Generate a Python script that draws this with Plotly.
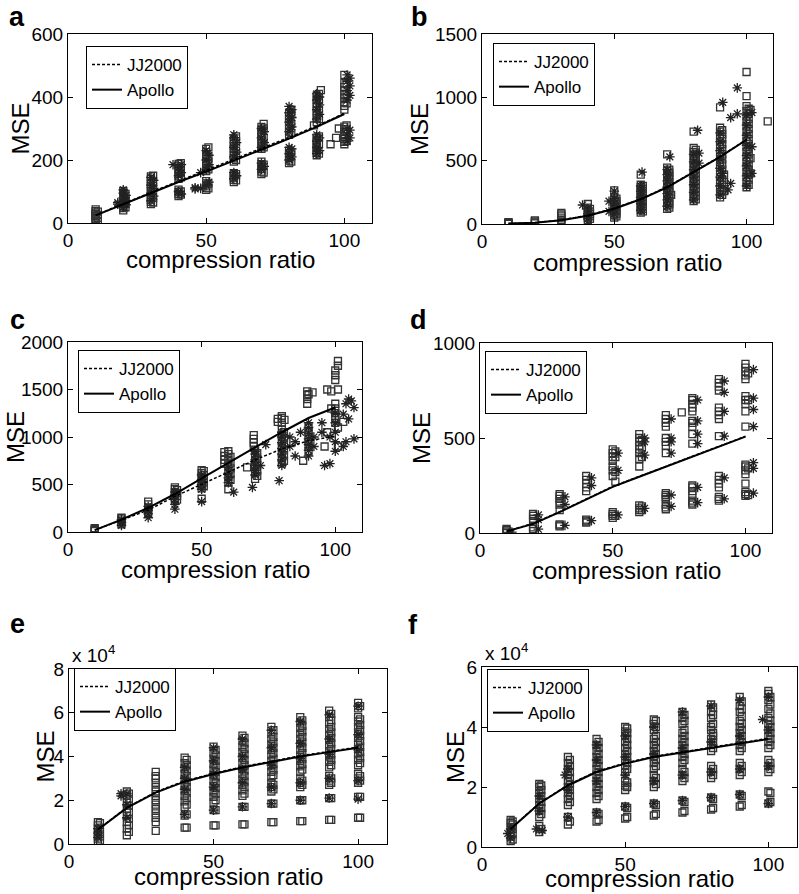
import plotly.graph_objects as go

W, H = 799, 894

# ------------------------------------------------------------------ data
CR = [10, 20, 30, 40, 50, 60, 70, 80, 90, 100]

# panel a
a_jj = [25, 62, 97, 133, 167, 202, 237, 272, 308, 348]
a_ap = [24, 60, 95, 130, 163, 198, 232, 268, 305, 346]
a_sq_x = [10, 10.8, 20, 20.8, 30, 30.8, 40, 40.8, 50, 50.8, 60, 60.8, 70, 70.8,
          80, 80.8, 89, 90, 90.8, 91.5, 95, 97, 98, 100, 100.8]
a_sq_y = [[3, 8, 13, 18, 23, 28, 33, 38, 43],
          [6, 16, 26, 36],
          [40, 47, 54, 61, 68, 75, 82, 89, 96, 102],
          [50, 64, 78, 92],
          [60, 67, 74, 81, 88, 100, 108, 116, 124, 132, 140, 148],
          [65, 80, 110, 130, 150],
          [85, 92, 99, 106, 140, 148, 156, 164, 172, 180, 188],
          [90, 100, 145, 160, 175, 190],
          [105, 112, 119, 126, 133, 165, 175, 185, 195, 205, 215, 225, 235],
          [110, 125, 170, 190, 210, 240],
          [130, 137, 144, 151, 158, 195, 205, 215, 225, 235, 245, 255, 265],
          [135, 155, 200, 230, 260, 275],
          [155, 163, 171, 179, 187, 195, 235, 245, 255, 265, 275, 285, 295, 305],
          [160, 185, 240, 270, 300, 315],
          [190, 198, 206, 214, 222, 230, 280, 290, 300, 310, 320, 330, 340, 350],
          [195, 225, 285, 315, 345, 360],
          [310],
          [215, 223, 231, 239, 247, 255, 263, 271, 320, 332, 344, 356, 368, 380, 392, 404],
          [220, 250, 275, 330, 360, 390, 410],
          [422],
          [250], [270], [300],
          [250, 258, 266, 274, 282, 290, 298, 306, 360, 372, 384, 396, 408, 420, 432, 444, 470],
          [260, 290, 310, 380, 410, 440]]
a_st_x = [18, 20, 21, 30, 31, 38, 40, 41, 46, 48, 50, 51, 60, 61, 70, 71, 80, 81,
          90, 91, 101, 102]
a_st_y = [[60, 65], [50, 65, 80, 95, 105], [58, 72, 88], [70, 95, 120, 145],
          [85, 110, 135], [185], [100, 150, 175], [92, 160, 185], [108, 112],
          [110, 160], [120, 170, 200, 230], [130, 185, 215], [140, 160, 210, 240, 270, 280],
          [150, 225, 255], [170, 190, 240, 270, 300], [180, 255, 290],
          [200, 220, 240, 290, 320, 350, 370], [210, 235, 305, 335, 360],
          [220, 240, 260, 280, 330, 360, 390, 410], [230, 270, 345, 375, 400],
          [260, 280, 300, 390, 420, 450, 470], [270, 295, 405, 435, 460]]

# panel b
b_jj = [3, 10, 32, 68, 124, 198, 293, 412, 532, 668]
b_ap = [3, 10, 30, 65, 120, 195, 290, 410, 530, 665]
b_sq_x = [10, 20, 30, 40, 40.8, 50, 50.8, 60, 60.8, 70, 70.8, 71.5, 80, 80.8, 90,
          90.8, 91.5, 100, 100.8, 101.5, 108]
b_sq_y = [[2, 6, 10, 14],
          [5, 12, 20, 28],
          [15, 30, 45, 60, 75, 88],
          [30, 50, 70, 90, 110, 130, 158],
          [40, 60, 80, 100, 120],
          [50, 70, 90, 110, 130, 150, 170, 190, 210, 265],
          [60, 80, 100, 120, 140, 160, 180, 200],
          [90, 110, 130, 150, 170, 190, 210, 230, 250, 270, 290, 310, 390],
          [100, 120, 140, 160, 180, 200, 220, 240, 260, 280, 300],
          [120, 145, 170, 195, 220, 245, 270, 295, 320, 345, 370, 395, 420, 445, 550],
          [130, 155, 180, 205, 230, 255, 280, 305, 330, 355, 380, 405, 430],
          [230],
          [180, 210, 240, 270, 300, 330, 360, 390, 420, 450, 480, 510, 540, 570, 600, 730],
          [195, 225, 255, 285, 315, 345, 375, 405, 435, 465, 495, 525, 555, 585],
          [210, 250, 290, 330, 370, 410, 450, 490, 530, 570, 610, 650, 690, 730, 760, 920],
          [230, 270, 310, 350, 430, 470, 510, 550, 590, 630, 670, 710, 740],
          [260, 330, 390],
          [290, 330, 370, 410, 450, 490, 530, 570, 610, 650, 690, 730, 770, 810, 850, 890, 930, 1010, 1200],
          [310, 350, 390, 430, 470, 510, 550, 590, 630, 670, 710, 750, 790, 830, 870, 910],
          [400, 520, 900],
          [810]]
b_st_x = [38, 40, 48, 50, 60, 60.5, 70, 71, 80, 81.5, 82, 90, 91, 93, 94, 96.5, 100, 102]
b_st_y = [[150], [40, 80, 120], [100, 180], [80, 120, 160, 200, 260],
          [110, 160, 210, 260, 300], [410],
          [140, 190, 240, 290, 340, 390, 430], [530],
          [190, 250, 310, 370, 430, 490, 550], [740], [480, 560],
          [230, 300, 370, 440, 510, 580, 650, 720], [960, 400], [270],
          [320, 840], [1075, 870],
          [300, 380, 460, 540, 620, 700, 780, 860], [400, 610, 880]]

# panel c
c_jj = [20, 125, 230, 375, 500, 630, 760, 875, 960, 1010]
c_ap = [20, 130, 255, 400, 565, 730, 890, 1050, 1200, 1310]
c_sq_x = [10, 20, 30, 40, 40.8, 50, 50.8, 58.5, 60, 60.8, 67, 69.5, 70, 70.8, 78.5, 80,
          80.8, 81, 88, 89.5, 90, 91.5, 96, 97, 98.5, 100, 101, 103]
c_sq_y = [[10, 20, 30, 40],
          [80, 100, 120, 140, 150],
          [200, 230, 260, 290, 320],
          [330, 360, 390, 420, 450, 470],
          [340, 380, 410, 440],
          [350, 460, 500, 540, 580, 620, 650],
          [480, 520, 560, 600, 640],
          [720, 760, 800, 840],
          [450, 520, 580, 640, 700, 760, 820, 850],
          [550, 610, 670, 730, 790],
          [680],
          [900, 940, 980, 1020],
          [560, 620, 680, 740, 800, 860],
          [590, 650, 710, 770, 830],
          [1160, 1190],
          [720, 780, 840, 900, 960, 1020, 1080, 1150, 1200, 1220],
          [750, 810, 870, 930, 990, 1050],
          [1180],
          [750],
          [1350, 1400, 1440, 1480],
          [850, 900, 950, 1000, 1050, 1100, 1450],
          [1470],
          [900],
          [1050, 1500],
          [1300, 1480],
          [1150, 1200, 1250, 1300, 1350, 1600, 1650, 1700],
          [900, 1100, 1500, 1750, 1800],
          [1160]]
c_st_x = [20, 30, 40, 50, 60, 62, 69, 70, 72, 74, 79, 80, 83, 85, 87, 90, 92, 95,
          96, 98, 100, 103, 104, 105, 106, 107]
c_st_y = [[70, 100, 130], [150, 190, 230, 270], [240, 290, 340, 390, 420],
          [320, 450, 500, 550, 600], [520, 570, 620, 680], [420], [470],
          [600, 650, 700, 760, 820, 850], [700], [920], [540],
          [700, 760, 820, 880, 940, 1000, 1050], [900, 1000], [800, 950], [1050],
          [800, 860, 920, 980, 1040, 1100, 1150], [900, 1000], [1050, 1150],
          [700], [720, 1000], [850, 950, 1050, 1150, 1250], [900, 1240],
          [950, 1350], [1190, 1400], [1380], [1310, 980]]

# panel d
d_jj = [10, 50, 112, 180, 245, 298, 350, 403, 456, 509]
d_ap = [8, 48, 110, 178, 243, 296, 349, 401, 454, 507]
d_sq_x = [10, 20, 30, 40, 50, 51, 60, 61, 70, 76, 80, 90, 100, 101]
d_sq_y = [[0, 8, 15, 22],
          [10, 20, 30, 60, 75, 90, 100],
          [35, 40, 45, 120, 150, 165, 180, 195, 205],
          [55, 60, 65, 70, 220, 240, 260, 280, 300],
          [80, 90, 100, 110, 300, 330, 350, 380, 400, 420, 440],
          [90, 270, 320, 400, 430],
          [110, 120, 130, 145, 350, 390, 420, 440, 460, 480, 500, 520],
          [120, 140, 400, 450, 490],
          [125, 135, 150, 180, 190, 200, 210, 420, 460, 480, 500, 560, 580, 600, 620],
          [635],
          [150, 160, 170, 200, 220, 240, 250, 470, 520, 560, 580, 590, 640, 660, 680, 700, 710],
          [170, 180, 190, 240, 260, 280, 300, 510, 600, 620, 640, 660, 750, 770, 790, 810],
          [195, 205, 215, 260, 310, 330, 350, 360, 560, 640, 680, 700, 720, 810, 830, 850, 870, 890],
          [200, 340, 700, 840]]
d_st_x = [12, 22, 32, 42, 52, 62, 72, 82, 92, 103]
d_st_y = [[5], [20, 70, 95], [40, 150, 190], [65, 250, 290], [95, 330, 420],
          [130, 410, 480, 500], [140, 200, 420, 480, 500, 600],
          [160, 240, 470, 520, 590, 700], [180, 290, 510, 640, 740, 800],
          [210, 340, 370, 560, 650, 710, 860]]

# panel e  (MSE in units of 10^4)
e_jj = [0.67, 1.67, 2.38, 2.88, 3.23, 3.53, 3.78, 4.03, 4.23, 4.43]
e_ap = [0.65, 1.65, 2.35, 2.85, 3.2, 3.5, 3.75, 4.0, 4.2, 4.4]
e_sq_x = [10, 10.7, 20, 20.7, 30, 40, 40.7, 50, 50.7, 60, 60.7, 70, 70.7, 80, 80.7,
          90, 90.7, 100, 100.7]
e_sq_y = [[0.1, 0.25, 0.4, 0.55, 0.7, 0.85, 1.0],
          [0.15, 0.35, 0.55, 0.75, 0.95],
          [0.4, 0.7, 1.0, 1.3, 1.6, 1.9, 2.2, 2.4],
          [0.55, 0.85, 1.15, 1.45, 1.75, 2.05, 2.3],
          [0.6, 1.0, 1.2, 1.4, 1.6, 1.8, 2.0, 2.2, 2.4, 2.6, 2.8, 3.0, 3.1, 3.3],
          [0.75, 1.3, 1.7, 1.95, 2.2, 2.45, 2.7, 2.95, 3.2, 3.45, 3.7, 3.95],
          [0.75, 1.35, 1.8, 2.1, 2.35, 2.6, 2.85, 3.1, 3.35, 3.6, 3.85],
          [0.85, 1.55, 1.9, 2.15, 2.4, 2.65, 2.9, 3.15, 3.4, 3.65, 3.9, 4.15, 4.45],
          [0.85, 1.55, 2.0, 2.3, 2.55, 2.8, 3.05, 3.3, 3.55, 3.8, 4.05, 4.3],
          [0.9, 1.7, 2.2, 2.45, 2.7, 2.95, 3.2, 3.45, 3.7, 3.95, 4.2, 4.45, 4.7, 4.95],
          [0.9, 1.7, 2.3, 2.6, 2.85, 3.1, 3.35, 3.6, 3.85, 4.1, 4.35, 4.6, 4.85],
          [1.0, 1.85, 2.4, 2.6, 2.8, 3.05, 3.3, 3.55, 3.8, 4.05, 4.3, 4.55, 4.8, 5.05, 5.35],
          [1.0, 1.85, 2.5, 2.7, 3.15, 3.4, 3.65, 3.9, 4.15, 4.4, 4.65, 4.9, 5.2],
          [1.05, 2.0, 2.6, 2.8, 3.0, 3.3, 3.55, 3.8, 4.05, 4.3, 4.55, 4.8, 5.05, 5.3, 5.55, 5.8],
          [1.05, 2.0, 2.7, 2.9, 3.4, 3.65, 3.9, 4.15, 4.4, 4.65, 4.9, 5.15, 5.4, 5.65],
          [1.1, 2.1, 2.7, 2.9, 3.1, 3.5, 3.75, 4.0, 4.25, 4.5, 4.75, 5.0, 5.25, 5.5, 5.8, 6.1],
          [1.1, 2.1, 2.8, 3.0, 3.6, 3.85, 4.1, 4.35, 4.6, 4.85, 5.1, 5.35, 5.65, 5.95],
          [1.2, 2.15, 2.8, 3.0, 3.2, 3.6, 3.85, 4.1, 4.35, 4.6, 4.85, 5.1, 5.35, 5.6, 5.8, 6.2, 6.45],
          [1.2, 2.15, 2.9, 3.1, 3.7, 3.95, 4.2, 4.45, 4.7, 4.95, 5.2, 5.45, 5.7, 6.3]]
e_st_x = [10, 18, 20, 40, 50, 60, 70, 80, 90, 100]
e_st_y = [[0.3, 0.5, 0.7], [2.2, 2.3], [1.2, 1.8, 2.3], [1.35, 2.5, 3.0, 3.5],
          [1.55, 2.6, 3.2, 3.8, 4.4], [1.7, 2.8, 3.4, 4.0, 4.8],
          [1.85, 2.6, 3.6, 4.4, 5.2], [2.0, 2.8, 3.9, 4.6, 5.6],
          [2.1, 3.0, 4.1, 4.8, 5.9], [2.05, 2.9, 4.3, 5.0, 6.3]]

# panel f  (MSE in units of 10^4)
f_jj = [0.61, 1.46, 2.07, 2.52, 2.8, 3.02, 3.17, 3.32, 3.47, 3.62]
f_ap = [0.6, 1.45, 2.05, 2.5, 2.78, 3.0, 3.15, 3.3, 3.45, 3.6]
f_sq_x = [10, 10.7, 20, 20.7, 30, 30.7, 40, 40.7, 50, 50.7, 60, 60.7, 70, 70.7, 80,
          80.7, 90, 90.7, 100, 100.7]
f_sq_y = [[0.2, 0.35, 0.5, 0.65, 0.8, 0.9],
          [0.25, 0.45, 0.6, 0.75, 0.85],
          [0.5, 0.7, 1.0, 1.2, 1.4, 1.6, 1.8, 2.0, 2.1],
          [0.6, 1.1, 1.3, 1.5, 1.7, 1.9, 2.05],
          [0.75, 1.0, 1.4, 1.6, 1.8, 2.0, 2.2, 2.4, 2.6, 2.8, 3.0],
          [0.85, 1.5, 1.7, 1.9, 2.1, 2.3, 2.5, 2.7, 2.9],
          [0.85, 1.15, 1.6, 1.8, 2.0, 2.2, 2.4, 2.6, 2.8, 3.0, 3.2, 3.4, 3.6],
          [0.9, 1.1, 1.7, 1.9, 2.1, 2.3, 2.5, 2.7, 2.9, 3.1, 3.3, 3.5],
          [0.95, 1.35, 1.9, 2.05, 2.2, 2.5, 2.7, 2.9, 3.1, 3.3, 3.5, 3.7, 3.85, 4.0],
          [1.0, 1.3, 2.0, 2.15, 2.6, 2.8, 3.0, 3.2, 3.4, 3.6, 3.8, 3.95],
          [1.05, 1.45, 2.0, 2.2, 2.4, 2.6, 2.8, 3.0, 3.2, 3.4, 3.6, 3.9, 4.1, 4.25],
          [1.1, 1.4, 2.1, 2.3, 2.7, 2.9, 3.1, 3.3, 3.5, 3.7, 4.0, 4.2],
          [1.15, 1.55, 2.2, 2.4, 2.6, 2.8, 3.0, 3.2, 3.4, 3.6, 3.8, 4.1, 4.3, 4.5],
          [1.2, 1.5, 2.3, 2.5, 2.9, 3.1, 3.3, 3.5, 3.7, 3.9, 4.2, 4.4],
          [1.25, 1.65, 2.3, 2.5, 2.7, 3.2, 3.4, 3.6, 3.9, 4.0, 4.3, 4.5, 4.75],
          [1.3, 1.6, 2.4, 2.6, 3.3, 3.5, 3.7, 3.8, 4.1, 4.4, 4.65],
          [1.35, 1.75, 2.4, 2.6, 2.8, 3.2, 3.4, 3.6, 3.8, 4.0, 4.2, 4.5, 4.7, 5.0],
          [1.4, 1.7, 2.5, 2.7, 3.3, 3.5, 3.7, 3.9, 4.1, 4.35, 4.6, 4.85],
          [1.45, 1.85, 2.5, 2.7, 2.9, 3.3, 3.5, 3.7, 3.9, 4.1, 4.3, 4.6, 4.9, 5.1, 5.2],
          [1.5, 1.8, 2.6, 2.8, 3.4, 3.6, 3.8, 4.0, 4.2, 4.45, 4.75, 5.0]]
f_st_x = [9, 10, 19, 20, 21, 29, 30, 40, 50, 60, 70, 80, 90, 98, 100]
f_st_y = [[0.45], [0.3, 0.6], [0.6], [1.2, 1.7], [0.55], [2.4], [1.0, 1.9, 2.6],
          [1.15, 2.2, 2.9, 3.4], [1.35, 2.4, 3.0, 3.7], [1.45, 2.2, 3.1, 4.0],
          [1.55, 2.4, 3.3, 4.5], [1.65, 2.5, 3.5, 4.7], [1.75, 2.6, 3.7, 4.9],
          [4.25], [1.45, 2.7, 3.9, 5.0]]

PANEL_LABELS = ["a", "b", "c", "d", "e", "f"]
Y_TICKS = [[0, 200, 400, 600], [0, 500, 1000, 1500], [0, 500, 1000, 1500, 2000],
           [0, 500, 1000], [0, 2, 4, 6, 8], [0, 2, 4, 6]]
X_TICKS = [0, 50, 100]
X_TITLE = "compression ratio"
Y_TITLE = "MSE"

panels = [
    (a_jj, a_ap, a_sq_x, a_sq_y, a_st_x, a_st_y),
    (b_jj, b_ap, b_sq_x, b_sq_y, b_st_x, b_st_y),
    (c_jj, c_ap, c_sq_x, c_sq_y, c_st_x, c_st_y),
    (d_jj, d_ap, d_sq_x, d_sq_y, d_st_x, d_st_y),
    (e_jj, e_ap, e_sq_x, e_sq_y, e_st_x, e_st_y),
    (f_jj, f_ap, f_sq_x, f_sq_y, f_st_x, f_st_y),
]

# ------------------------------------------------------------------ layout (pixels)
# plot-area boxes: left, right, top, bottom
BOX = [(68, 372, 34, 223), (482, 773, 34, 224),
       (68, 362, 342, 532), (480, 772, 343, 533),
       (69, 387, 669, 844), (482, 797, 667, 847)]
LEG = [(86, 46), (493, 43), (78, 350), (485, 351), (74, 668), (487, 669)]
LBL = [(17, 13), (419, 13), (17, 320), (418, 320), (17, 624), (413, 625)]
YT_OFF = [48, 62, 53, 59, 24, 27]      # MSE title centre, px left of axis
XT_OFF = [37, 38, 37, 37, 32, 31]      # x title centre, px below axis

FONT = "Liberation Sans, Arial, Helvetica, sans-serif"


def flat(xs, yss):
    ox, oy = [], []
    for x, ys in zip(xs, yss):
        for y in ys:
            ox.append(x)
            oy.append(y)
    return ox, oy


fig = go.Figure()
layout = dict(width=W, height=H, margin=dict(l=0, r=0, t=0, b=0, autoexpand=False),
              paper_bgcolor="white", plot_bgcolor="white",
              font=dict(family=FONT, size=18, color="black"),
              annotations=[])

for i, (jj, ap, sqx, sqy, stx, sty) in enumerate(panels):
    n = "" if i == 0 else str(i + 1)
    xa, ya = "x" + n, "y" + n
    leg = "legend" + n
    sx, sy = flat(sqx, sqy)
    fig.add_trace(go.Scatter(x=sx, y=sy, xaxis=xa, yaxis=ya, mode="markers",
                             showlegend=False,
                             marker=dict(symbol="square-open", size=7, color="#333333",
                                         line=dict(width=1.3, color="#333333"))))
    tx, ty = flat(stx, sty)
    fig.add_trace(go.Scatter(x=tx, y=ty, xaxis=xa, yaxis=ya, mode="markers",
                             showlegend=False,
                             marker=dict(symbol="asterisk-open", size=8, color="#222222",
                                         line=dict(width=1.3, color="#222222"))))
    fig.add_trace(go.Scatter(x=CR, y=jj, xaxis=xa, yaxis=ya, mode="lines", name="JJ2000",
                             legend=leg, line=dict(color="black", width=1.5, dash="3px,2px")))
    fig.add_trace(go.Scatter(x=CR, y=ap, xaxis=xa, yaxis=ya, mode="lines", name="Apollo",
                             legend=leg, line=dict(color="black", width=2)))

    l, r, t, b = BOX[i]
    yt = Y_TICKS[i]
    axis_common = dict(showline=True, linecolor="black", linewidth=1, mirror="allticks",
                       ticks="inside", ticklen=5, tickcolor="black", showgrid=False,
                       zeroline=False, automargin=False,
                       tickfont=dict(size=19, family=FONT))
    layout["xaxis" + n] = dict(domain=[l / W, r / W], anchor=ya, range=[0, 110],
                               tickvals=X_TICKS, **axis_common)
    layout["yaxis" + n] = dict(domain=[1 - b / H, 1 - t / H], anchor=xa,
                               range=[yt[0], yt[-1]], tickvals=yt,
                               ticktext=[str(v) for v in yt], **axis_common)
    # axis titles
    layout["annotations"].append(dict(text=X_TITLE, xref="paper", yref="paper",
                                      x=(l + r) / 2 / W, y=1 - (b + XT_OFF[i]) / H,
                                      showarrow=False, xanchor="center", yanchor="middle",
                                      font=dict(size=24, family=FONT)))
    layout["annotations"].append(dict(text=Y_TITLE, xref="paper", yref="paper",
                                      x=(l - YT_OFF[i]) / W, y=1 - (t + b) / 2 / H,
                                      showarrow=False, xanchor="center", yanchor="middle",
                                      textangle=-90, font=dict(size=24, family=FONT)))
    lx, ly = LEG[i]
    layout[leg] = dict(x=lx / W, y=1 - ly / H, xanchor="left", yanchor="top",
                       bgcolor="white", bordercolor="black", borderwidth=1,
                       font=dict(size=17, family=FONT), itemwidth=30,
                       tracegroupgap=0)
    px, py = LBL[i]
    if i < 2:
        lbl = dict(y=1.0, yanchor="top")
    else:
        lbl = dict(y=1 - py / H, yanchor="middle")
    layout["annotations"].append(dict(text="<b>" + PANEL_LABELS[i] + "</b>", xref="paper",
                                      yref="paper", x=px / W, showarrow=False,
                                      xanchor="center", font=dict(size=27, family=FONT),
                                      **lbl))
    if i >= 4:
        layout["annotations"].append(dict(text="x 10<sup>4</sup>", xref="paper", yref="paper",
                                          x=(l + 1) / W, y=1 - (t - 1) / H, showarrow=False,
                                          xanchor="left", yanchor="bottom",
                                          font=dict(size=19, family=FONT)))

fig.update_layout(**layout)
fig.write_html("out.html",
               config={"displayModeBar": False},
               post_script="document.body.style.margin='0px';"
                           "document.body.style.padding='0px';"
                           "document.documentElement.style.overflow='hidden';")
